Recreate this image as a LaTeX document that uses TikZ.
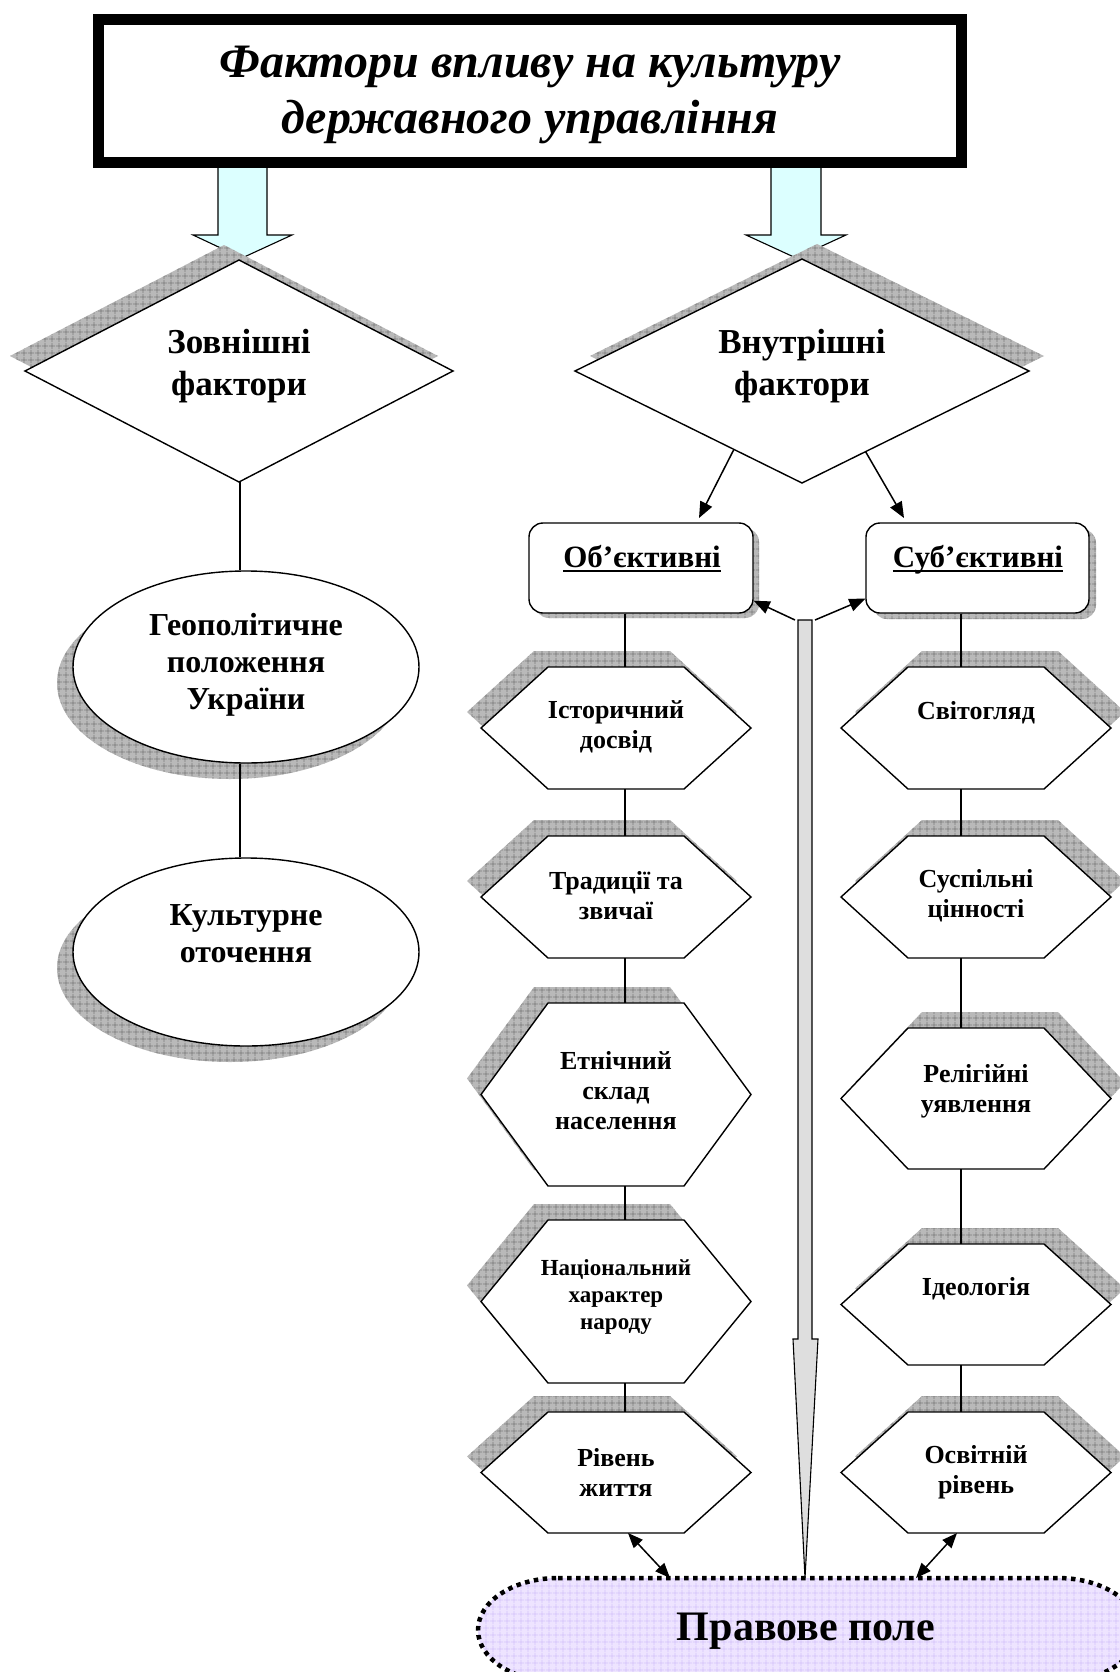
\documentclass[tikz,border=0pt]{standalone}
\usepackage{fontspec}
\setmainfont{Liberation Serif}
\usetikzlibrary{shapes.geometric,arrows.meta,patterns.meta,calc}

\tikzdeclarepattern{
  name=sgrid, type=uncolored,
  bounding box={(0,0) and (7pt,7pt)},
  tile size={(7pt,7pt)},
  code={\draw[line width=0.9pt] (0,3.5pt) -- (7pt,3.5pt) (3.5pt,0) -- (3.5pt,7pt);}
}

\definecolor{shadowgray}{RGB}{185,185,185}
\definecolor{shadowline}{RGB}{125,125,125}
\definecolor{arrowcyan}{RGB}{220,255,255}
\definecolor{lavender}{RGB}{238,228,255}
\definecolor{lavline}{RGB}{212,195,250}
\definecolor{bargray}{RGB}{222,222,222}

\newcommand{\ulword}[1]{\setbox0=\hbox{#1}\rlap{\rule[-5pt]{\wd0}{2.5pt}}\box0}

\tikzset{
  outline/.style={draw=black, line width=1.4pt},
  shadowfill/.style={fill=shadowgray, postaction={pattern=sgrid, pattern color=shadowline}},
  conn/.style={draw=black, line width=1.5pt},
  arr/.style={conn, -{Triangle[length=16pt,width=13pt]}},
  darr/.style={conn, {Triangle[length=15pt,width=12pt]}-{Triangle[length=15pt,width=12pt]}},
  blockarrow/.style={draw=black, line width=1.1pt, fill=arrowcyan},
  hextext/.style={font=\bfseries\fontsize{26}{30}\selectfont, align=center, inner sep=0pt},
  smalltext/.style={font=\bfseries\fontsize{23}{27}\selectfont, align=center, inner sep=0pt},
  elltext/.style={font=\bfseries\fontsize{32}{37}\selectfont, align=center, inner sep=0pt},
  diatext/.style={font=\bfseries\fontsize{35}{42}\selectfont, align=center, inner sep=0pt},
  boxtext/.style={font=\bfseries\fontsize{31}{37}\selectfont, inner sep=0pt},
  holder/.style={inner sep=0pt, outer sep=0pt},
}

% hexagon: name, cx, top, bottom, shadow dx
\newcommand{\hexa}[5]{%
  \pgfmathsetmacro\hy{(#3+#4)/2}%
  \fill[shadowfill] ({#2-68+(#5)},{#3-16}) -- ({#2+68+(#5)},{#3-16}) -- ({#2+135+(#5)},{\hy-16})
     -- ({#2+68+(#5)},{#4-16}) -- ({#2-68+(#5)},{#4-16}) -- ({#2-135+(#5)},{\hy-16}) -- cycle;
  \draw[outline, fill=white] ({#2-68},#3) -- ({#2+68},#3) -- ({#2+135},\hy)
     -- ({#2+68},#4) -- ({#2-68},#4) -- ({#2-135},\hy) -- cycle;
  \node[holder, minimum width=270, minimum height={#4-#3}] (#1) at (#2,\hy) {};
}
% diamond: name, cx, cy, hw, hh, shadow dx
\newcommand{\diam}[6]{%
  \fill[shadowfill] ({#2+(#6)},{#3-#5-15}) -- ({#2+#4+(#6)},{#3-15}) -- ({#2+(#6)},{#3+#5-15})
     -- ({#2-#4+(#6)},{#3-15}) -- cycle;
  \draw[outline, fill=white] (#2,{#3-#5}) -- ({#2+#4},#3) -- (#2,{#3+#5}) -- ({#2-#4},#3) -- cycle;
  \node[holder, minimum width={2*#4}, minimum height={2*#5}] (#1) at (#2,#3) {};
}

\begin{document}
\begin{tikzpicture}[x=1pt,y=-1pt]
\useasboundingbox (0,0) rectangle (1119,1672);
\fill[white] (0,0) rectangle (1119,1672);

% block arrows from the title
\draw[blockarrow] (218,160) -- (218,235) -- (193,235) -- (242,258) -- (292,235) -- (267,235) -- (267,160) -- cycle;
\draw[blockarrow] (771,160) -- (771,235) -- (746,235) -- (796,258) -- (846,235) -- (821,235) -- (821,160) -- cycle;

% title
\node[draw=black, line width=11pt, fill=white, minimum width=863, minimum height=143, inner sep=0pt] (title) at (530,91) {};
\node[font=\bfseries\itshape\fontsize{48}{56}\selectfont, align=center, inner sep=0pt] (titlet) at (530,95)
      {Фактори впливу на культуру\\державного управління};

% diamonds
\diam{dZ}{239}{371}{214}{111}{-15}
\diam{dV}{802}{371}{227}{112}{15}
\node[diatext] (dZt) at (239,366) {Зовнішні\\фактори};
\node[diatext] (dVt) at (802,366) {Внутрішні\\фактори};

% ellipses
\fill[shadowfill] (230,683) ellipse [x radius=173, y radius=96];
\node[ellipse, outline, fill=white, minimum width=346, minimum height=192, inner sep=0pt] (E1) at (246,667) {};
\fill[shadowfill] (230,968) ellipse [x radius=173, y radius=94];
\node[ellipse, outline, fill=white, minimum width=346, minimum height=188, inner sep=0pt] (E2) at (246,952) {};
\node[elltext] (E1t) at (246,665) {Геополітичне\\положення\\України};
\node[elltext] (E2t) at (246,934) {Культурне\\оточення};

% rounded boxes
\fill[shadowfill, rounded corners=14] (535,528) rectangle (759,618);
\node[outline, fill=white, rounded corners=14, minimum width=224, minimum height=90, inner sep=0pt] (bO) at (641,568) {};
\fill[shadowfill, rounded corners=14] (873,529) rectangle (1096,619);
\node[outline, fill=white, rounded corners=14, minimum width=223, minimum height=90, inner sep=0pt] (bS) at (977.5,568) {};
\node[boxtext, anchor=base] (bOt) at (642,567) {\ulword{Об’єктивні}};
\node[boxtext, anchor=base] (bSt) at (978,567) {\ulword{Суб’єктивні}};

% hexagons
\hexa{L1}{616}{667}{789}{-14}
\hexa{L2}{616}{836}{958}{-14}
\hexa{L3}{616}{1003}{1186}{-14}
\hexa{L4}{616}{1220}{1383}{-14}
\hexa{L5}{616}{1412}{1533}{-14}
\hexa{R1}{976}{667}{789}{14}
\hexa{R2}{976}{836}{958}{14}
\hexa{R3}{976}{1028}{1169}{14}
\hexa{R4}{976}{1244}{1365}{14}
\hexa{R5}{976}{1412}{1533}{14}

\node[hextext] (L1t) at (616,727) {Історичний\\досвід};
\node[hextext] (L2t) at (616,896) {Традиції та\\звичаї};
\node[hextext] (L3t) at (616,1091) {Етнічний\\склад\\населення};
\node[smalltext] (L4t) at (616,1297) {Національний\\характер\\народу};
\node[hextext] (L5t) at (616,1472) {Рівень\\життя};
\node[hextext, anchor=base] (R1t) at (976,719) {Світогляд};
\node[hextext] (R2t) at (976,896) {Суспільні\\цінності};
\node[hextext] (R3t) at (976,1091) {Релігійні\\уявлення};
\node[hextext, anchor=base] (R4t) at (976,1295) {Ідеологія};
\node[hextext] (R5t) at (976,1472) {Освітній\\рівень};

% legal field
\draw[line width=4.5pt, dash pattern=on 4.5pt off 4.5pt,
      preaction={fill=lavender}, preaction={pattern=sgrid, pattern color=lavline}]
  (558,1578) -- (1058,1578) arc[start angle=-90, end angle=90, x radius=80, y radius=52]
  -- (558,1682) arc[start angle=90, end angle=270, x radius=80, y radius=52] -- cycle;
\node[holder, minimum width=660, minimum height=104] (pp) at (808,1630) {};
\node[font=\bfseries\fontsize{42}{50}\selectfont, inner sep=0pt, anchor=base] (ppt) at (806,1640) {Правове поле};

% central arrow
\draw[line width=1.1pt, fill=bargray] (798,620) -- (812,620) -- (812,1339) -- (818,1339) -- (805,1578)
   -- (793,1339) -- (798,1339) -- cycle;
\coordinate (barTL) at (795,620);
\coordinate (barTR) at (815,620);

% connectors
\coordinate (cZ) at (240,0);
\coordinate (cL) at (625,0);
\coordinate (cR) at (961,0);
\coordinate (oA) at (699,518);
\coordinate (oB) at (904,518);

\draw[conn] (dZ.south -| cZ) -- (E1.north -| cZ);
\draw[conn] (E1.south -| cZ) -- (E2.north -| cZ);

\draw[arr] ($(dV.west)!0.70!(dV.south)$) -- (oA);
\draw[arr] ($(dV.south)!0.28!(dV.east)$) -- (oB);

\draw[arr] (barTL) -- ([yshift=13pt]bO.south east);
\draw[arr] (barTR) -- ([yshift=15pt]bS.south west);

\draw[conn] (bO.south -| cL) -- (L1.north -| cL);
\draw[conn] (L1.south -| cL) -- (L2.north -| cL);
\draw[conn] (L2.south -| cL) -- (L3.north -| cL);
\draw[conn] (L3.south -| cL) -- (L4.north -| cL);
\draw[conn] (L4.south -| cL) -- (L5.north -| cL);

\draw[conn] (bS.south -| cR) -- (R1.north -| cR);
\draw[conn] (R1.south -| cR) -- (R2.north -| cR);
\draw[conn] (R2.south -| cR) -- (R3.north -| cR);
\draw[conn] (R3.south -| cR) -- (R4.north -| cR);
\draw[conn] (R4.south -| cR) -- (R5.north -| cR);

\draw[darr] ([xshift=12pt]L5.south) -- ([xshift=-138pt]pp.north);
\draw[darr] ([xshift=-19pt]R5.south) -- ([xshift=108pt]pp.north);
\end{tikzpicture}
\end{document}
